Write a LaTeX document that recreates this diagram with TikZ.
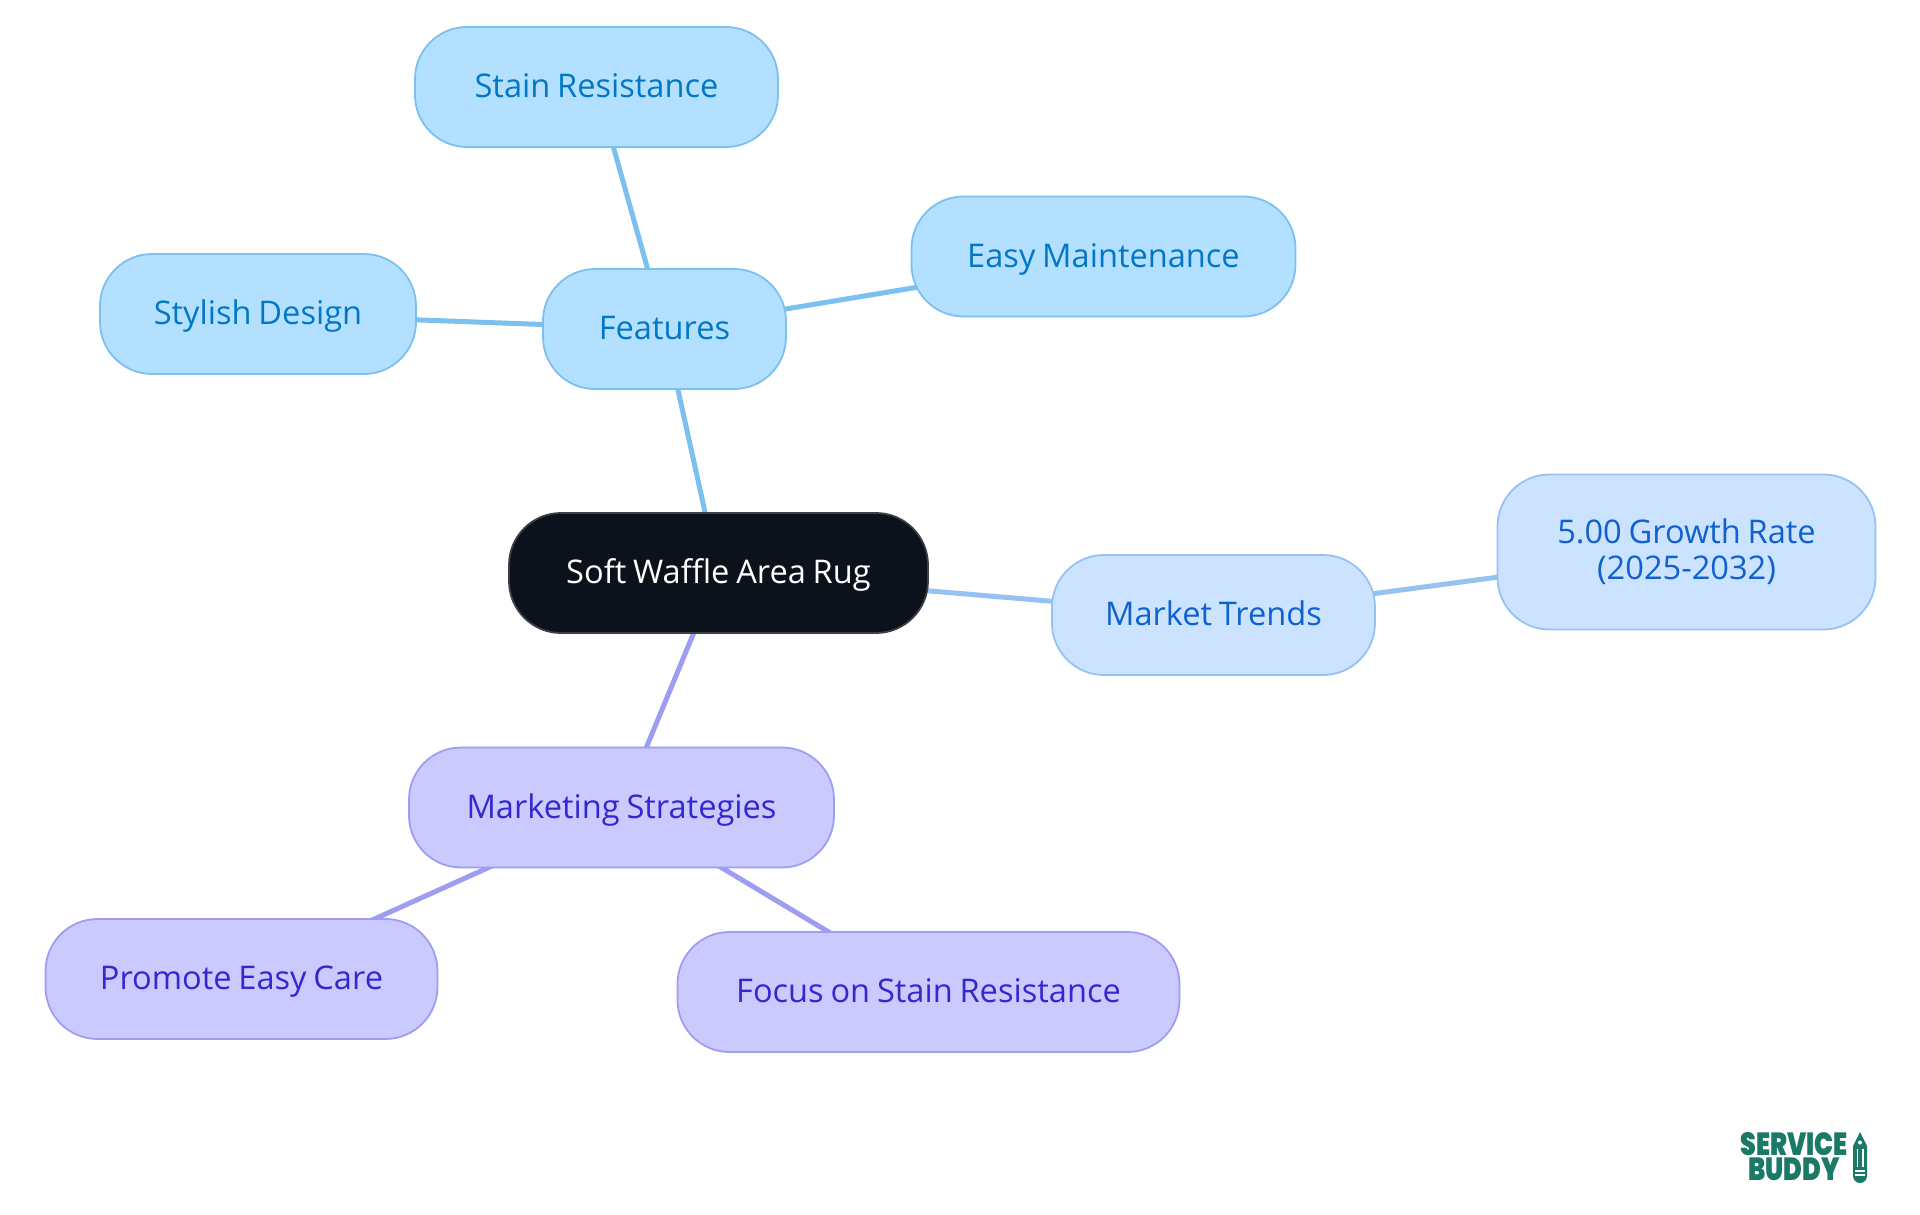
\documentclass[tikz,border=0pt]{standalone}
\usepackage{fontspec}
\usetikzlibrary{backgrounds}
\setmainfont[WordSpace=0.8]{Open Sans}
\newfontfamily\logofont{Poppins Black}

\definecolor{rootfill}{HTML}{0C121B}
\definecolor{rootline}{HTML}{3C4046}
\definecolor{featfill}{HTML}{B3E0FF}
\definecolor{featline}{HTML}{7CC0F0}
\definecolor{feattext}{HTML}{0277C5}
\definecolor{trendfill}{HTML}{CCE3FF}
\definecolor{trendline}{HTML}{96C2F2}
\definecolor{trendtext}{HTML}{0F62CE}
\definecolor{stratfill}{HTML}{CACAFF}
\definecolor{stratline}{HTML}{9D9DF2}
\definecolor{strattext}{HTML}{3427D0}
\definecolor{logogreen}{HTML}{1B7A66}

\tikzset{
  mapnode/.style={rectangle, rounded corners=52pt, line width=1.8pt, inner sep=0pt,
    minimum height=120pt, align=center, text height=28pt, text depth=7pt,
    font=\fontsize{32.6}{36}\selectfont},
  rootnode/.style={mapnode, fill=rootfill, draw=rootline, text=white},
  featnode/.style={mapnode, fill=featfill, draw=featline, text=feattext},
  trendnode/.style={mapnode, fill=trendfill, draw=trendline, text=trendtext},
  stratnode/.style={mapnode, fill=stratfill, draw=stratline, text=strattext},
  featlink/.style={draw=featline, line width=5pt},
  trendlink/.style={draw=trendline, line width=5pt},
  stratlink/.style={draw=stratline, line width=5pt},
  logotext/.style={text=logogreen, inner sep=0pt, xscale=0.79, transform shape, align=center,
    font=\logofont\fontsize{32}{25}\selectfont}
}

\begin{document}
\begin{tikzpicture}[x=1pt,y=-1pt]
\useasboundingbox (0,0) rectangle (1920,1215);

% Centre
\node[rootnode, minimum width=419pt] (rug) at (718.5,573) {Soft Waffle Area Rug};

% Features
\node[featnode, minimum width=243pt] (features) at (664.5,329) {Features};
\node[featnode, minimum width=363pt] (stain) at (596.5,87) {Stain Resistance};
\node[featnode, minimum width=384pt] (care) at (1103.5,256.5) {Easy Maintenance};
\node[featnode, minimum width=316pt] (design) at (258,314) {Stylish Design};

% Market trends
\node[trendnode, minimum width=323pt] (trends) at (1213.5,615) {Market Trends};
\node[trendnode, minimum width=378pt, minimum height=155pt, text height=, text depth=] (growth) at (1686.5,552) {5.00 Growth Rate\\(2025-2032)};

% Marketing
\node[stratnode, minimum width=425pt] (marketing) at (621.5,807.5) {Marketing Strategies};
\node[stratnode, minimum width=392pt] (promote) at (241.5,979) {Promote Easy Care};
\node[stratnode, minimum width=502pt] (focus) at (928.5,992) {Focus on Stain Resistance};

% Links
\begin{scope}[on background layer]
\draw[featlink] (rug.center) -- (features.center);
\draw[featlink] (features.center) -- (stain.center);
\draw[featlink] (features.center) -- (care.center);
\draw[featlink] (features.center) -- (design.center);
\draw[trendlink] (rug.center) -- (trends.center);
\draw[trendlink] (trends.center) -- (growth.center);
\draw[stratlink] (rug.center) -- (marketing.center);
\draw[stratlink] (marketing.center) -- (promote.center);
\draw[stratlink] (marketing.center) -- (focus.center);
\end{scope}

% Logo
\node[logotext] (logotext) at (1794,1156.5) {SERVICE\\BUDDY};
\fill[logogreen] (1860,1132) -- (1867,1146) -- (1867,1176) arc (0:180:7) -- (1853,1146) -- cycle;
\fill[white] (1860,1142.5) circle (2);
\fill[white] (1856.5,1149) rectangle (1858,1167);
\fill[white] (1862,1149) rectangle (1863.5,1167);
\fill[white] (1855,1170) rectangle (1865,1171.5);
\fill[white] (1855,1174) rectangle (1865,1175.5);
\end{tikzpicture}
\end{document}
